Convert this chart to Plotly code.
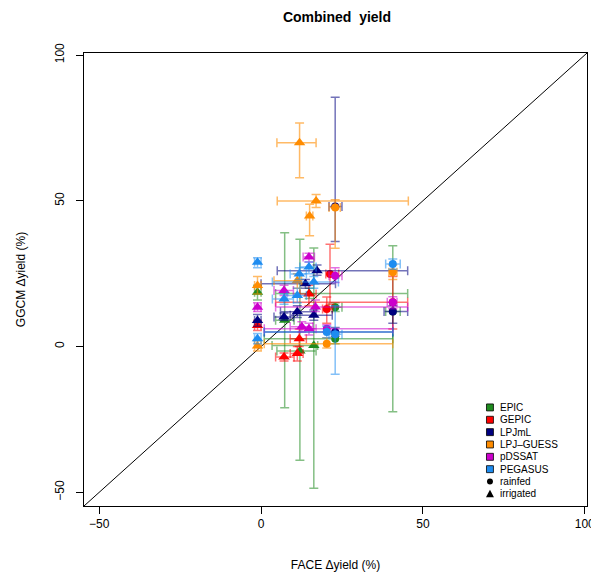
import plotly.graph_objects as go

# ---------------- data ----------------
# each row: kind ("r" rainfed / "i" irrigated), FACE dyield, GGCM dyield,
#           FACE low, FACE high, GGCM low, GGCM high
epic = [
    ("i", -1.1, 18.6, -2.0, 0.0, 16.0, 21.0),
    ("i", 7.3, 9.0, 4.5, 10.2, -21.0, 39.0),
    ("i", 12.0, -1.5, 4.9, 17.0, -39.0, 36.8),
    ("i", 16.3, 0.4, 3.4, 17.5, -48.6, 33.8),
    ("i", 14.9, 18.2, 4.5, 45.3, 16.5, 20.0),
    ("r", 40.7, 12.0, 38.5, 43.0, -22.4, 34.6),
    ("r", 22.9, 13.5, 21.0, 25.0, 12.0, 15.0),
    ("r", 22.9, 2.7, 1.0, 40.7, 1.0, 4.5),
]
gepic = [
    ("i", -1.1, 7.2, -2.0, 0.0, 5.5, 9.0),
    ("i", 7.1, -3.6, 4.5, 10.2, -5.0, -2.2),
    ("i", 11.8, 2.7, 9.0, 14.0, 0.0, 6.0),
    ("i", 11.2, -2.4, 9.0, 13.0, -5.0, 0.0),
    ("i", 14.8, 18.0, 12.0, 17.0, 14.0, 21.0),
    ("r", 21.3, 24.9, 20.0, 24.0, 14.5, 35.1),
    ("r", 40.7, 15.2, 4.5, 45.3, 6.0, 24.0),
    ("r", 20.3, 12.9, 19.0, 22.0, 8.0, 17.0),
]
lpjml = [
    ("i", -1.1, 8.9, -2.0, 0.0, 7.0, 11.0),
    ("i", 7.1, 10.1, 4.0, 10.0, 9.0, 11.5),
    ("i", 11.2, 11.9, 6.0, 17.0, 10.0, 14.0),
    ("i", 17.3, 26.0, 5.0, 45.3, 24.5, 28.0),
    ("i", 13.7, 21.5, 0.0, 23.0, 20.0, 23.0),
    ("i", 16.3, 10.7, 9.0, 22.0, 9.0, 12.5),
    ("r", 22.9, 48.0, 21.0, 25.0, 36.0, 85.5),
    ("r", 40.7, 12.0, 38.0, 45.3, 8.0, 14.0),
    ("r", 22.9, 5.0, 1.0, 40.7, 3.5, 6.5),
]
lpjguess = [
    ("i", -1.1, 20.9, -2.0, 0.0, 18.0, 24.0),
    ("i", -1.1, 0.2, -2.0, 0.0, -1.5, 2.0),
    ("i", 11.2, 22.6, 4.0, 12.5, 20.0, 25.0),
    ("i", 11.9, 69.9, 4.9, 17.0, 57.9, 76.7),
    ("i", 17.0, 49.9, 5.0, 45.5, 47.7, 52.2),
    ("i", 15.0, 44.8, 14.0, 16.0, 38.0, 48.8),
    ("r", 22.9, 47.7, 21.0, 24.5, 33.7, 50.4),
    ("r", 40.7, 25.5, 39.5, 42.0, 23.0, 28.0),
    ("r", 20.3, 1.0, 1.0, 40.7, -0.5, 3.0),
]
pdssat = [
    ("i", -1.1, 13.5, -2.0, 0.0, 12.0, 15.0),
    ("i", 7.1, 19.2, 4.0, 10.0, 17.5, 21.0),
    ("i", 12.6, 6.8, 9.0, 16.0, 5.0, 8.5),
    ("i", 14.8, 30.7, 13.0, 16.5, 29.0, 32.0),
    ("i", 16.8, 13.6, 4.5, 45.3, 12.0, 16.0),
    ("i", 14.8, 6.1, 12.0, 17.0, 4.0, 8.0),
    ("r", 22.9, 24.3, 21.0, 25.0, 22.0, 27.0),
    ("r", 40.7, 15.2, 39.0, 42.0, 13.0, 17.1),
    ("r", 20.3, 6.1, 1.0, 40.7, 5.0, 7.5),
]
pegasus = [
    ("i", -1.1, 28.9, -2.0, 0.0, 27.0, 30.5),
    ("i", -1.1, 2.7, -2.0, 0.0, 1.0, 4.5),
    ("i", 7.1, 16.3, 3.5, 10.0, 14.5, 18.0),
    ("i", 11.8, 24.9, 9.0, 14.0, 23.0, 27.0),
    ("i", 11.2, 17.5, 8.0, 14.0, 15.0, 20.0),
    ("i", 14.8, 27.3, 12.0, 17.0, 25.0, 29.0),
    ("i", 16.3, 22.1, 3.5, 23.9, 20.0, 24.0),
    ("r", 20.3, 5.0, 1.0, 40.7, 3.0, 7.0),
    ("r", 22.9, 4.2, 21.0, 25.0, -9.5, 14.0),
    ("r", 40.7, 28.3, 38.5, 43.0, 26.5, 30.0),
]

model_names = ["EPIC", "GEPIC", "LPJmL", "LPJ\u2013GUESS", "pDSSAT", "PEGASUS"]
model_rows = [epic, gepic, lpjml, lpjguess, pdssat, pegasus]
model_colors = ["#1f8b1f", "#ff0000", "#00007f", "#ff8c00", "#cc00cc", "#1e8cf0"]
bar_colors = ["rgba(31,139,31,0.55)", "rgba(255,0,0,0.55)", "rgba(0,0,127,0.55)",
              "rgba(255,140,0,0.6)", "rgba(204,0,204,0.55)", "rgba(30,140,240,0.55)"]
type_labels = ["rainfed", "irrigated"]

axis_range = [-54.7, 100.7]
tick_vals = [-50, 0, 50, 100]
tick_text = ["\u221250", "0", "50", "100"]

FONT = "Liberation Sans, Arial, Helvetica, sans-serif"

# page body has an 8px margin: figure is drawn 8px right/down of the window origin
OFF = 8
FIG_W, FIG_H = 599, 582 - OFF
L, R, T, B = 83 - OFF, 591 - OFF, 53 - OFF, 508 - OFF   # plot box in figure px

fig = go.Figure()

# 1:1 line
fig.add_trace(go.Scatter(x=axis_range, y=axis_range, mode="lines",
                         line=dict(color="black", width=1), showlegend=False,
                         hoverinfo="skip"))

for name, rows, col, bcol in zip(model_names, model_rows, model_colors, bar_colors):
    for kind, sym, size in (("r", "circle", 8), ("i", "triangle-up", 10)):
        sel = [r for r in rows if r[0] == kind]
        if not sel:
            continue
        xs = [r[1] for r in sel]
        ys = [r[2] for r in sel]
        fig.add_trace(go.Scatter(
            x=xs, y=ys, mode="markers", name=name, showlegend=False,
            marker=dict(symbol=sym, size=size, color=col, line=dict(width=0)),
            error_x=dict(type="data", symmetric=False,
                         array=[r[4] - r[1] for r in sel],
                         arrayminus=[r[1] - r[3] for r in sel],
                         color=bcol, thickness=1.5, width=4.5),
            error_y=dict(type="data", symmetric=False,
                         array=[r[6] - r[2] for r in sel],
                         arrayminus=[r[2] - r[5] for r in sel],
                         color=bcol, thickness=1.5, width=4.5),
        ))

# ---------------- manual legend (paper coords, page px in) ----------------
W, H = R - L, B - T
def px(x):
    return (x - OFF - L) / W
def py(y):
    return (B - (y - OFF)) / H

shapes = []
annotations = []
leg_x = 493
row_y0 = 409
row_dy = 12.4
for i, (name, col) in enumerate(zip(model_names, model_colors)):
    yy = row_y0 + i * row_dy
    shapes.append(dict(type="rect", xref="paper", yref="paper",
                       x0=px(leg_x - 3.5), x1=px(leg_x + 3.5),
                       y0=py(yy + 3.5), y1=py(yy - 3.5),
                       fillcolor=col, line=dict(color="black", width=0.8)))
    annotations.append(dict(text=name, xref="paper", yref="paper",
                            x=px(leg_x + 8), y=py(yy), xanchor="left",
                            yanchor="middle", showarrow=False,
                            font=dict(family=FONT, size=10, color="black")))
yy = row_y0 + 6 * row_dy
shapes.append(dict(type="circle", xref="paper", yref="paper",
                   x0=px(leg_x - 3), x1=px(leg_x + 3), y0=py(yy + 3), y1=py(yy - 3),
                   fillcolor="black", line=dict(color="black", width=0)))
annotations.append(dict(text=type_labels[0], xref="paper", yref="paper",
                        x=px(leg_x + 8), y=py(yy), xanchor="left", yanchor="middle",
                        showarrow=False, font=dict(family=FONT, size=10, color="black")))
yy = row_y0 + 7 * row_dy
tri = "M {:.4f},{:.4f} L {:.4f},{:.4f} L {:.4f},{:.4f} Z".format(
    px(leg_x - 4), py(yy + 3.5), px(leg_x + 4), py(yy + 3.5), px(leg_x), py(yy - 4))
shapes.append(dict(type="path", xref="paper", yref="paper", path=tri,
                   fillcolor="black", line=dict(color="black", width=0)))
annotations.append(dict(text=type_labels[1], xref="paper", yref="paper",
                        x=px(leg_x + 8), y=py(yy), xanchor="left", yanchor="middle",
                        showarrow=False, font=dict(family=FONT, size=10, color="black")))

axis_common = dict(range=axis_range, tickvals=tick_vals, ticktext=tick_text,
                   showgrid=False, zeroline=False, showline=True, mirror=True,
                   linecolor="black", linewidth=1, ticks="outside", ticklen=7,
                   tickcolor="black", tickwidth=1,
                   tickfont=dict(family=FONT, size=12, color="black"))

fig.update_layout(
    width=FIG_W, height=FIG_H,
    margin=dict(l=L, r=FIG_W - R, t=T, b=FIG_H - B, pad=0),
    plot_bgcolor="white", paper_bgcolor="white",
    title=dict(text="<b>Combined  yield</b>", x=(L + R) / 2 / FIG_W, xanchor="center",
               y=1 - (17 - OFF) / FIG_H, yanchor="middle",
               font=dict(family=FONT, size=14, color="black")),
    xaxis=dict(**axis_common,
               title=dict(text="FACE \u0394yield (%)", standoff=30,
                          font=dict(family=FONT, size=12, color="black"))),
    yaxis=dict(**axis_common, tickangle=-90, ticklabelstandoff=7,
               title=dict(text="GGCM \u0394yield (%)", standoff=25,
                          font=dict(family=FONT, size=12, color="black"))),
    shapes=shapes, annotations=annotations,
    showlegend=False,
)

fig.write_html("out.html")
